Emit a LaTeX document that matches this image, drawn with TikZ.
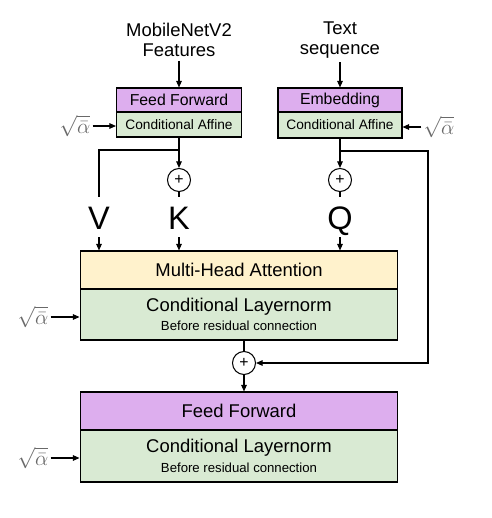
\documentclass[tikz,border=0pt]{standalone}
\usepackage{fontspec}
\setmainfont{Liberation Sans}
\usetikzlibrary{arrows.meta}
\usetikzlibrary{calc}
\definecolor{ffpurple}{RGB}{221,174,238}
\definecolor{normgreen}{RGB}{217,234,211}
\definecolor{attnyellow}{RGB}{255,242,204}
\definecolor{alphagray}{RGB}{105,105,105}

\begin{document}
\begin{tikzpicture}[x=0.02cm, y=-0.02cm, line width=0.6pt,
    >={Triangle[length=3.8pt,width=3.2pt]},
    box/.style={draw, inner sep=0pt, align=center},
    smallbox/.style={box, minimum width=2.5cm},
    widebox/.style={box, minimum width=6.36cm},
    plus/.style={circle, draw, inner sep=0pt, minimum size=0.46cm, font=\fontsize{9}{9}\selectfont},
    letter/.style={inner sep=0pt, text height=0.48cm, text depth=0pt, minimum height=0.78cm, font=\fontsize{18.5}{18.5}\selectfont},
    rootalpha/.style={text=alphagray, inner sep=1pt, font=\fontsize{11.5}{11.5}\selectfont},
    bigrootalpha/.style={rootalpha, font=\fontsize{12.5}{12.5}\selectfont},
    toplabel/.style={align=center, inner sep=2pt, font=\fontsize{10.5}{11.5}\selectfont}]
    \useasboundingbox (0,0) rectangle (491,518);

    \node[toplabel] (feat) at (179,40) {MobileNetV2\\Features};
    \node[toplabel] (seq) at (340,40) {Text\\sequence};

    \node[smallbox, fill=ffpurple, minimum height=0.48cm, font=\fontsize{9}{9}\selectfont] (ff1) at (179,100) {Feed Forward};
    \node[smallbox, fill=normgreen, minimum height=0.5cm, font=\fontsize{7.8}{9}\selectfont] (ca1) at (179,124.5) {Conditional Affine};
    \node[smallbox, minimum width=2.48cm, fill=ffpurple, minimum height=0.48cm, font=\fontsize{9}{9}\selectfont] (emb) at (340,100) {Embedding};
    \node[smallbox, minimum width=2.48cm, fill=normgreen, minimum height=0.52cm, font=\fontsize{7.8}{9}\selectfont] (ca2) at (340,125) {Conditional Affine};

    \node[rootalpha] (a1) at (75,126) {$\sqrt{\bar{\alpha}}$};
    \node[rootalpha] (a2) at (439,127) {$\sqrt{\bar{\alpha}}$};

    \node[plus] (p1) at (179,180) {+};
    \node[plus] (p2) at (340,180) {+};

    \node[letter] (V) at (99,217) {V};
    \node[letter] (K) at (179,217) {K};
    \node[letter] (Q) at (340,217) {Q};

    \node[widebox, fill=attnyellow, minimum height=0.76cm, font=\fontsize{10.5}{12}\selectfont] (mha) at (239,270) {Multi-Head Attention};
    \node[widebox, fill=normgreen, minimum height=1.02cm, font=\fontsize{10.5}{12}\selectfont] (cl1) at (239,314.5) {Conditional Layernorm\\[-1pt]{\fontsize{7.5}{9}\selectfont Before residual connection}};
    \node[bigrootalpha] (a3) at (33,317) {$\sqrt{\bar{\alpha}}$};

    \node[plus] (p3) at (244,363) {+};

    \node[widebox, fill=ffpurple, minimum height=0.76cm, font=\fontsize{10.5}{12}\selectfont] (ff2) at (239,411) {Feed Forward};
    \node[widebox, fill=normgreen, minimum height=1.04cm, font=\fontsize{10.5}{12}\selectfont] (cl2) at (239,456) {Conditional Layernorm\\[-1pt]{\fontsize{7.5}{9}\selectfont Before residual connection}};
    \node[bigrootalpha] (a4) at (33,458) {$\sqrt{\bar{\alpha}}$};

    \coordinate (b1) at (179,150);
    \coordinate (b2) at (340,151);
    \coordinate (r2) at (428,260);

    \draw[->] (feat) -- (ff1);
    \draw[->] (seq) -- (emb);
    \draw[->] (a1.east) -- (a1.east -| ca1.west);
    \draw[->] (a2.west) -- (a2.west -| ca2.east);
    \draw[->] (ca1) -- (p1);
    \draw[->] (ca2) -- (p2);
    \draw (b1) -| (V);
    \draw[->] (b2) -| (r2) |- (p3);
    \draw (p1) -- (K);
    \draw (p2) -- (Q);
    \draw[->] (V) -- (V |- mha.north);
    \draw[->] (K) -- (K |- mha.north);
    \draw[->] (Q) -- (Q |- mha.north);
    \draw[->] (a3.east) -- (a3.east -| cl1.west);
    \draw (cl1.south -| p3) -- (p3);
    \draw[->] (p3) -- (p3 |- ff2.north);
    \draw[->] (a4.east) -- (a4.east -| cl2.west);
\end{tikzpicture}
\end{document}
